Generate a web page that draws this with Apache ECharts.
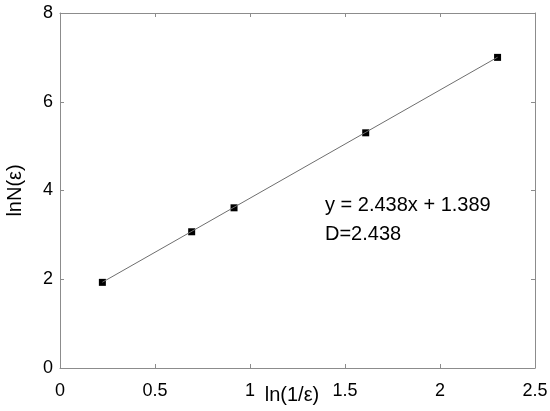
<!DOCTYPE html>
<html>
<head>
<meta charset="utf-8">
<script src="https://cdn.jsdelivr.net/npm/echarts@6/dist/echarts.min.js"></script>
<style>
html,body{margin:0;padding:0;background:#fff;}
#c{width:550px;height:411px;}
</style>
</head>
<body>
<div id="c"></div>
<script>
var xVals = [0.223, 0.693, 0.916, 1.609, 2.303];
var yVals = [1.93, 3.07, 3.61, 5.30, 7.00];
var slope = 2.438;
var intercept = 1.389;
var xTicks = [0, 0.5, 1, 1.5, 2, 2.5];
var yTicks = [0, 2, 4, 6, 8];
var eqText = 'y = 2.438x + 1.389';
var dText = 'D=2.438';

var pts = xVals.map(function (x, i) { return [x, yVals[i]]; });
var fit = [xVals[0], xVals[xVals.length - 1]].map(function (x) { return [x, slope * x + intercept]; });

var FONT = 'Liberation Sans, Arial, sans-serif';
var axisCol = '#8c8c8c';
function fmt(v) { return String(v); }

var chart = echarts.init(document.getElementById('c'));
var baseAxis = {
  axisLine: { show: true, onZero: false, lineStyle: { color: axisCol, width: 1 } },
  axisTick: { show: true, inside: true, length: 4, lineStyle: { color: axisCol } },
  splitLine: { show: false },
  nameMoveOverlap: false
};
chart.setOption({
  animation: false,
  grid: { left: 60, right: 15, top: 13, bottom: 43, containLabel: false, outerBoundsMode: 'none' },
  xAxis: [
    Object.assign({}, baseAxis, {
      type: 'value', min: 0, max: 2.5, interval: 0.5, position: 'bottom',
      name: 'ln(1/ε)', nameLocation: 'middle', nameGap: 17,
      nameTextStyle: { fontFamily: FONT, fontSize: 20, color: '#000', verticalAlign: 'top', padding: [0, 11, 0, 0] },
      axisLabel: { fontFamily: FONT, fontSize: 18, color: '#000', margin: 14, formatter: fmt }
    }),
    Object.assign({}, baseAxis, {
      type: 'value', min: 0, max: 2.5, interval: 0.5, position: 'top',
      axisLabel: { show: false }
    })
  ],
  yAxis: [
    Object.assign({}, baseAxis, {
      type: 'value', min: 0, max: 8, interval: 2, position: 'left',
      name: 'lnN(ε)', nameLocation: 'middle', nameGap: 35,
      nameTextStyle: { fontFamily: FONT, fontSize: 20, color: '#000' },
      axisLabel: { fontFamily: FONT, fontSize: 18, color: '#000', margin: 7, formatter: fmt }
    }),
    Object.assign({}, baseAxis, {
      type: 'value', min: 0, max: 8, interval: 2, position: 'right',
      axisLabel: { show: false }
    })
  ],
  series: [
    {
      type: 'line', data: fit, xAxisIndex: 0, yAxisIndex: 0,
      symbol: 'none', lineStyle: { color: '#6e6e6e', width: 1 }, silent: true
    },
    {
      type: 'scatter', data: pts, xAxisIndex: 0, yAxisIndex: 0,
      symbol: 'rect', symbolSize: 7, itemStyle: { color: '#000', opacity: 1 }
    }
  ],
  graphic: [
    { type: 'text', left: 325, top: 195, style: { text: eqText, font: '20px ' + FONT, fill: '#000' } },
    { type: 'text', left: 325, top: 224, style: { text: dText, font: '20px ' + FONT, fill: '#000' } }
  ]
});
</script>
</body>
</html>
